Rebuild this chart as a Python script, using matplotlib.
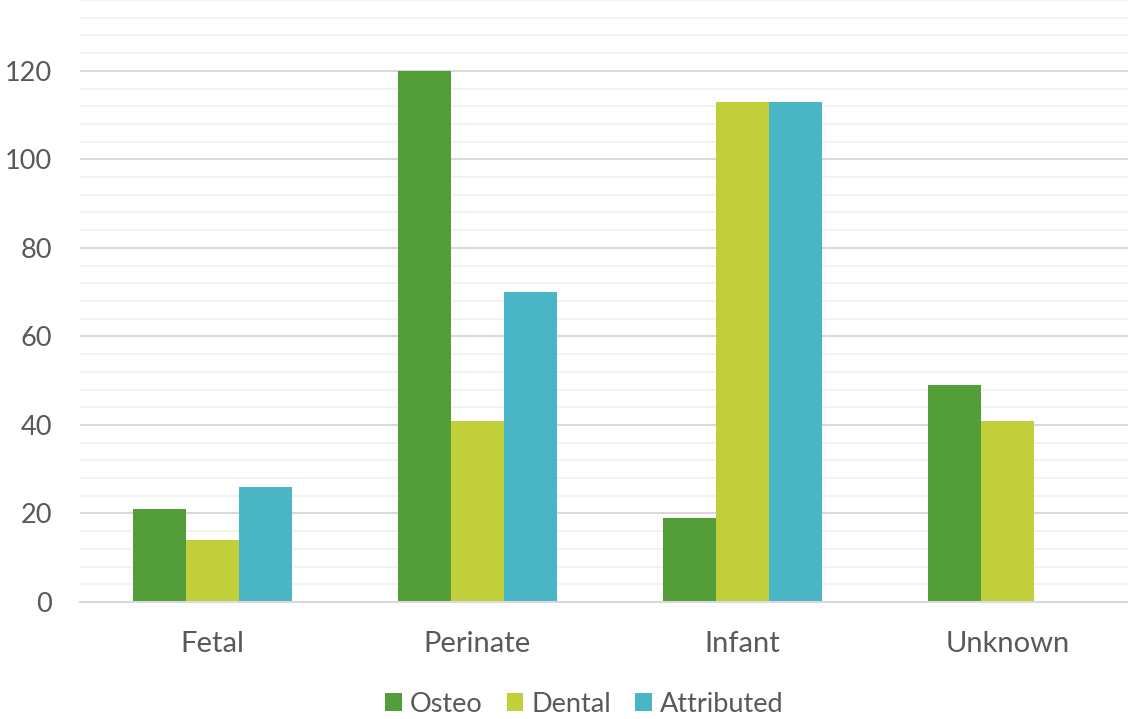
import numpy as np
import matplotlib.pyplot as plt
from matplotlib.ticker import MultipleLocator

categories = ["Fetal", "Perinate", "Infant", "Unknown"]
series_names = ["Osteo", "Dental", "Attributed"]
osteo = [21, 120, 19, 49]
dental = [14, 41, 113, 41]
attributed = [26, 70, 113, 0]
colors = ["#549E39", "#C0CF3A", "#4AB5C4"]

plt.rcParams["font.family"] = ["Lato", "DejaVu Sans"]
text_color = "#595959"

fig = plt.figure(figsize=(11.28, 7.19), dpi=100)
ax = fig.add_axes([80 / 1128, (719 - 602) / 719, 1060 / 1128, 602 / 719])

x = np.arange(len(categories))
width = 0.2
for i, (vals, name) in enumerate(zip([osteo, dental, attributed], series_names)):
    ax.bar(x + (i - 1) * width, vals, width, color=colors[i], label=name, zorder=3)

ax.set_xlim(-0.5, len(categories) - 0.5)
ax.set_ylim(0, 136)
ax.yaxis.set_major_locator(MultipleLocator(20))
ax.yaxis.set_minor_locator(MultipleLocator(4))
ax.grid(which="major", axis="y", color="#D9D9D9", linewidth=1.5, zorder=0)
ax.grid(which="minor", axis="y", color="#F2F2F2", linewidth=1.5, zorder=0)

for side in ["top", "right", "left"]:
    ax.spines[side].set_visible(False)
ax.spines["bottom"].set_color("#D9D9D9")
ax.spines["bottom"].set_linewidth(1.5)
ax.spines["bottom"].set_zorder(4)

ax.set_xticks(x)
ax.set_xticklabels(categories)
ax.tick_params(axis="both", which="both", length=0, colors=text_color)
ax.tick_params(axis="x", labelsize=21, pad=21)
ax.tick_params(axis="y", labelsize=19.5, pad=20)

leg = fig.legend(loc="center", bbox_to_anchor=(0.518, 1 - 704 / 719), ncol=3,
                 frameon=False, fontsize=19.5, handlelength=0.6, handleheight=0.6,
                 handletextpad=0.3, columnspacing=0.9)
for t in leg.get_texts():
    t.set_color(text_color)

fig.savefig("out.png", dpi=100)
